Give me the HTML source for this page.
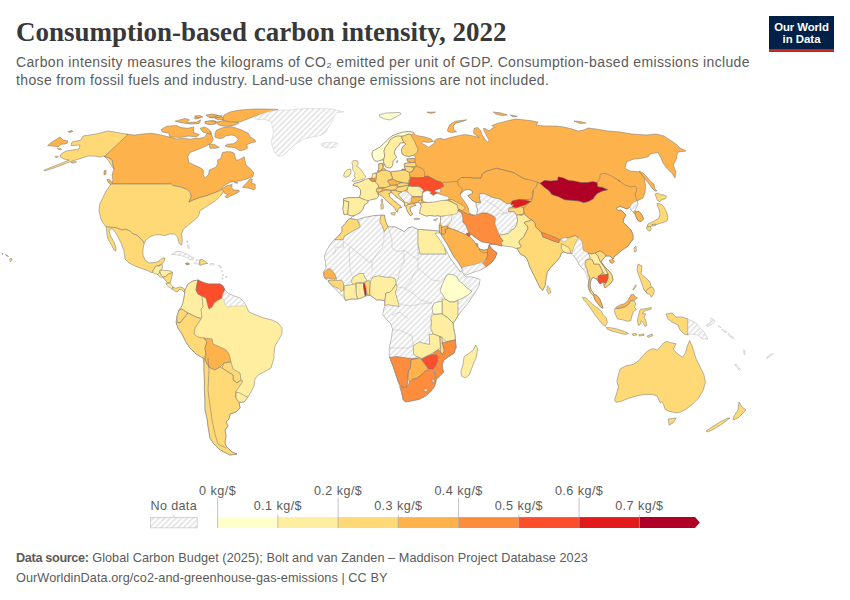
<!DOCTYPE html>
<html><head><meta charset="utf-8">
<style>
html,body{margin:0;padding:0;background:#fff;}
body{width:850px;height:600px;position:relative;overflow:hidden;font-family:"Liberation Sans",sans-serif;}
.t{position:absolute;white-space:nowrap;}
#title{left:16px;top:16.8px;font-family:"Liberation Serif",serif;font-weight:bold;font-size:27px;color:#383838;line-height:30px;}
#sub{left:16px;top:53.6px;font-size:14px;letter-spacing:0.36px;color:#5b5b5b;line-height:17.9px;}
#logo{position:absolute;left:769px;top:16px;width:65px;height:33px;background:#002147;border-bottom:3px solid #ce261e;}
#logo div{position:absolute;width:65px;text-align:center;color:#fff;font-weight:bold;font-size:11.4px;line-height:12px;}
.leg{position:absolute;font-size:12.5px;color:#5b5b5b;white-space:nowrap;}
#foot{left:16px;top:547.6px;font-size:12.7px;color:#5b5b5b;line-height:20px;}
svg{position:absolute;left:0;top:0;}
</style></head><body>
<div class="t" id="title">Consumption-based carbon intensity, 2022</div>
<div class="t" id="sub">Carbon intensity measures the kilograms of CO₂ emitted per unit of GDP. Consumption-based emissions include<br>those from fossil fuels and industry. Land-use change emissions are not included.</div>
<div id="logo"><div style="top:4.6px;letter-spacing:-0.1px">Our World</div><div style="top:16.8px">in Data</div></div>

<svg width="850" height="600" viewBox="0 0 850 600">
<defs>
<pattern id="hatch" patternUnits="userSpaceOnUse" width="4" height="4" patternTransform="rotate(-45 2 2)">
<rect x="-1" y="-1" width="6" height="6" fill="#fff"/><path d="M-1 2H5" stroke="#dddddd" stroke-width="1.4"/>
</pattern>
</defs>
<g id="map" stroke="#707070" stroke-width="0.5" stroke-linejoin="round">
<path d="M47.6 145.6 52 142 60 137 63 140 68 141 67 143.6 61 144.4 58 147 53 146Z" fill="#feb24c"/>
<path d="M68 131.5 72 130.5 73 131.5 69 132.5Z" fill="#feb24c"/>
<path d="M70.8 162.5 74 161.6 76.7 161.8 73 163.3Z" fill="#fed976"/>
<path d="M55 156.4 57.5 156 58.3 157 55.8 157.6Z" fill="#fed976"/>
<path d="M57.5 148.5 60 148.2 61.7 149.3 58.5 149.7Z" fill="#fed976"/>
<path d="M126.4 134 134.2 135.1 142.7 134 151.9 133.3 159.7 134.7 168.2 136.8 176.7 139 183.7 138.2 190 139.2 195 138.3 199.2 138.3 204.2 137.5 206.7 134.2 208.3 130.8 210.8 131.7 211.7 135 213.3 139.2 211.7 142.5 206.7 145.8 202.5 147.5 196.7 150 190 152.5 188 156 188 158 188.7 162.3 195 165.5 200 167.5 203.3 170 203.3 175 205 177.9 208.6 174.3 209.3 170 215.8 167.2 217.9 163.6 217.5 160 220.8 158.3 222.5 152.5 226.7 151.7 230.8 151.7 234.2 153.3 235.8 160 238.3 160 241.7 158.3 244.2 156.7 245.9 165 250.9 169.3 253.7 172.9 253 176.5 249.4 177.9 245.1 179.4 240.8 180.8 235.1 181.5 230.1 182.2 225.1 185.1 221.5 188 222.2 188.7 226.5 185.8 232.2 184.4 231.5 187.2 233.7 190.1 238.7 190.1 239.4 191.5 235.8 193.7 230.8 195.8 226.5 198 225.1 196.6 227.9 194.4 225.1 193.7 223.6 192.3 222.1 189.5 218.9 191.1 212.5 193.5 206.2 195.9 199.8 197.5 193.5 199.9 188.7 202.2 191.1 196.7 190.3 192.7 187.1 189.5 180.8 187.1 172.8 185.6 171.2 184 142.6 184 111 184 113 180 112 175 114 169 113 166 112 160 109 158 104.5 156.5Z" fill="#feb24c"/>
<path d="M242.3 187.2 246.6 182.9 250.2 178.6 252.3 179.4 251.6 182.9 255.2 184.4 255.2 188.7 253.7 190.1 250.9 188.7 248 188 245.1 187.6Z" fill="#feb24c"/>
<path d="M234.4 182.2 238 182.9 236 183.3Z" fill="#feb24c"/>
<path d="M107 179 110 180 114 185 112 186 108 182Z" fill="#feb24c"/>
<path d="M104 171 106 170 106 174 104 175Z" fill="#feb24c"/>
<path d="M161 129.7 166.7 126.2 176.7 125.5 181 127.6 188 128.3 193.7 127 193.7 132.6 199.3 134.7 196.5 136.8 188 136.1 179.5 137.5 169.6 136.8 168.9 133.3 162.5 131.9Z" fill="#feb24c"/>
<path d="M175.2 121.2 185.2 118.4 189.4 119.8 186.6 122.7 196.5 122 200.7 119.8 199.3 123.4 190.8 124 181 122.7Z" fill="#feb24c"/>
<path d="M194.4 117.7 201.4 116.3 199 118.5 195 119Z" fill="#feb24c"/>
<path d="M205 122 213.5 120.5 219.2 122.7 212 124Z" fill="#feb24c"/>
<path d="M200 128.3 205 127 209.2 129.7 210.7 134 206.4 133.3 202.9 131.9Z" fill="#feb24c"/>
<path d="M216.7 130 223.3 127.5 231.7 126.7 236.7 128.3 241.7 130 248.3 133.3 250 136.7 255 140 255.8 141.7 250 143.3 246.7 145 247.5 148.3 243.3 150 240 150.8 237.5 149.2 234.2 147.5 227.5 147 225 145.8 227.5 144.2 233.3 143.8 236.7 141.7 238.3 139.2 235 135.8 231.7 135 225.8 135.8 223.3 138 219 138.5 215 137 215 133Z" fill="#feb24c"/>
<path d="M209.2 144.2 214.2 144.2 219.2 147.5 215 148.3 210 148.3Z" fill="#feb24c"/>
<path d="M217.5 122 222 120.8 230 120.6 236 121.5 239 123 235 125 228 126.4 221 125.8 218 124.5Z" fill="#feb24c"/>
<path d="M205 121.5 210 120.8 216 121.5 215 124 209 124.7 205 123.5Z" fill="#feb24c"/>
<path d="M194.5 116 200 115.6 202.7 117 198 118Z" fill="#feb24c"/>
<path d="M207.7 115.5 214 114.8 222.5 116 218 118 210 117.8Z" fill="#feb24c"/>
<path d="M224 115 230 112 240 110 254 109 266 109 278 109.4 270 112 258 115 250 118 240 122 230 122 222 120Z" fill="#feb24c"/>
<path d="M206 115 212 114 218 115.5 214 117 208 117Z" fill="#feb24c"/>
<path d="M215 118 222 117 224 119 218 120Z" fill="#feb24c"/>
<path d="M254.5 117.4 261.2 114.1 270.1 111.3 277.9 110.1 289.1 110.1 298 109 311.5 108.5 322.6 108.7 331.6 109 339.4 110.7 343.9 111.8 336 112.9 333.8 116.3 332.7 120.8 330.4 124.1 328.2 127.5 326 131.9 321.5 135.3 315.9 136.4 309.2 137.5 302.5 139.8 296.9 143.1 292.5 146.5 288 150.9 283.5 155.4 279 156.5 275.7 154.3 273.5 149.8 271.2 143.1 272.3 137.5 273.5 131.9 272.3 126.3 271.2 121.9 265.6 119.6 258.9 119.6 255.6 119.1Z" fill="url(#hatch)" stroke="#c8c8c8"/>
<path d="M321.5 143.7 326 142.5 334.9 142 338.3 143.7 336 147 330.4 148.1 324.9 147.6 321.5 145.3Z" fill="url(#hatch)" stroke="#c8c8c8"/>
<path d="M110.9 184 142.6 184 171.2 184 172.8 185.6 180.8 187.1 187.1 189.5 190.3 192.7 191.1 196.7 188.7 202.2 193.5 199.9 199.8 197.5 206.2 195.9 212.5 193.5 218.9 191.1 222.1 189.5 223.7 191.1 220.5 195.9 215.7 200.6 209.4 204.6 204.6 207.8 199.8 211 199 214.9 196.7 218.1 191.9 222.1 187.1 226.1 183.2 229.2 181.6 234 182.4 240.4 181.6 245.1 179.2 243.5 177.6 237.2 174.4 234 169.7 234 164.9 235.6 160.1 234.8 155.4 234.8 149 237.2 145.8 240.4 144.2 243.5 141.1 238.8 136.3 234.8 133.1 234 129.9 230.8 125.2 229.2 122 230 115.6 227.6 106.1 226.9 102.9 222.9 100.6 218.1 99 210.2 99.8 203.8 102.9 197.5 106.1 191.1 109.3 186.4Z" fill="#fed976"/>
<path d="M128 134.4 120 133 108 131 96 134 83 136 81 140 72 142 71 145.6 80 145 79 149 66 151 61 154 60 157 64 159 69 160 62 163 52 167 44 170.2 44.5 171 53 168.3 62 165 69.2 162 75 160.2 82 158 88 156 94 156 100 157 104 156 109 158 112 160 113 166 114 169 111 165 108 160 104.5 156.5Z" fill="#fed976"/>
<path d="M106.1 226.9 115.6 227.6 122 230 125.2 229.2 129.9 230.8 133.1 234 136.3 234.8 141.1 238.8 144.2 243.5 143 249 143 255 145 260 149 263 156.2 262.3 159.9 260.5 162.3 258 165.1 258 164.2 261.1 162.3 263.5 159.9 264.8 159.9 266 156.2 266 153.1 270.3 152.5 272.5 150 272.2 149 271 143 269 135 266 129 263 125 259 124 251 121 243 117 235 113 229 110 229 109 231 111 237 114 242 116 248 116 251 114 250 111 244 108 239 107 235 106.6 230Z" fill="#fed976"/>
<path d="M159.9 264.8 162.3 264.5 162.3 269.1 159.9 270.3 159.9 272.2 158 274.6 154.3 273.4 152.5 272.5 153.1 270.3 156.2 266 159.9 266Z" fill="#ffeda0"/>
<path d="M159.9 270.3 165.4 270.3 171 271 172.8 272.5 168.5 274 165.4 276.5 162.9 277.1 161.1 275.3 159.9 272.2Z" fill="#ffeda0"/>
<path d="M158 274.6 159.9 272.2 161.1 275.3 162.9 277.1 159.9 277.1Z" fill="#ffeda0"/>
<path d="M162.9 277.7 165.4 276.5 168.5 274 172.8 272.5 171.6 277.7 170.3 282.7 167.3 282.7 164.8 279.6Z" fill="#fed976"/>
<path d="M166 283.3 170.3 283.3 172.8 287 172.2 289.4 169.7 287.6 167.3 285.7Z" fill="#ffeda0"/>
<path d="M172.8 287 175.9 288.2 179.6 287 182.7 287.6 185.1 290.1 183.9 291.9 182.1 290.1 179 289.4 177.7 291.9 175.3 291.3 172.8 289.4Z" fill="#fed976"/>
<path d="M171.2 254.4 175.7 251.5 180.7 251.5 185.6 253.6 189.7 255.7 193.8 257.7 193 259.8 188.9 259.4 187.2 257.7 181.5 255.7 175.7 254.8Z" fill="url(#hatch)" stroke="#bbbbbb"/>
<path d="M186.4 241 188 241.5 187.5 243Z" fill="url(#hatch)" stroke="#bbbbbb"/>
<path d="M187.5 245 189 245.5 189.5 248.5 188 248Z" fill="url(#hatch)" stroke="#bbbbbb"/>
<path d="M185.2 263.4 187.5 262.8 189.7 264 187 265.1Z" fill="#fd8d3c"/>
<path d="M196.3 259.8 199.6 259.8 199.6 263.1 200 264.7 197.1 263.9 193.8 263.5 196.3 262.2Z" fill="url(#hatch)" stroke="#bbbbbb"/>
<path d="M200 259.8 202.1 259.4 205.4 261.4 207.8 263.5 204.5 263.9 201.2 264.7 200 265.5 199.6 263.1Z" fill="#fed976"/>
<path d="M209.9 263.6 214 263.5 214 264.8 210 264.8Z" fill="url(#hatch)" stroke="#bbbbbb"/>
<path d="M218.9 265.4 220.1 265.4 220.1 266.6 218.9 266.6Z" fill="url(#hatch)" stroke="#bbbbbb"/>
<path d="M220.4 266.9 221.6 266.9 221.6 268.1 220.4 268.1Z" fill="url(#hatch)" stroke="#bbbbbb"/>
<path d="M221.4 270.4 222.6 270.4 222.6 271.6 221.4 271.6Z" fill="url(#hatch)" stroke="#bbbbbb"/>
<path d="M222.4 274.4 223.6 274.4 223.6 275.6 222.4 275.6Z" fill="url(#hatch)" stroke="#bbbbbb"/>
<path d="M221.9 277.9 223.1 277.9 223.1 279.1 221.9 279.1Z" fill="url(#hatch)" stroke="#bbbbbb"/>
<path d="M225.9 276.4 227.1 276.4 227.1 277.6 225.9 277.6Z" fill="url(#hatch)" stroke="#bbbbbb"/>
<path d="M185 290 188 284 193 281 198 280 202 282 208 284 214 284 220 284 223 286 225 290 229 294 234 296 240 298 244 302 246 306 249 312 256 315 264 318 272 320 278 323 282 328 282 334 278 341 275 346 274 354 274 358 271 368 264 372 258 375 255 379 254 386 251 392 248 397 244 402 239 402.4 240 408 236 412 230 414 229 419 226 422 228 426 225 430 226 436 225 442 226 446 228 448 232 452 237 454 230 455 224 452 219 449 214 444 210 438 209 432 208 426 207 418 205 410 205 400 204.4 390 204.4 380 204 370 204 364 203 358 196 354 190 348 186 342 182 334 178 328 176 322 177 316 179 310 182 306 184 298Z" fill="#ffeda0"/>
<path d="M185 290 188 284 193 281 198 280 197 284 196 290 198 294 202 296 203 307 201 309 202 318 199 318 196 317 190 314 186 312 182 309 179 310 182 306 184 298Z" fill="#ffeda0"/>
<path d="M198 280 202 282 208 284 214 284 220 284 223 286 225 290 223 294 222 298 218 300 214 303 212 307 209 309 208 306 207 302 206 298 202 296 198 294 196 290 197 284Z" fill="#fc4e2a"/>
<path d="M225 290 229 294 234 296 240 298 244 302 246 306 240 306 234 306 228 307 225 305 224 300 222 298 223 294Z" fill="url(#hatch)" stroke="#bbbbbb"/>
<path d="M179 310 182 309 186 312 188 313 184 318 180 323 177 322 177 316Z" fill="#fed976"/>
<path d="M180 323 184 318 188 313 190 314 196 317 199 318 201 319 195 328 194 334 198 337 204 338 207 342 205 348 206 354 204 358 203 358 196 354 190 348 186 342 182 334 178 328 176 322Z" fill="#fed976"/>
<path d="M204 338 212 339 213 344 220 347 226 350 229 354 231 362 224 363 220 367 215 370 210 368 207 364 205 360 206 354 205 348 207 342Z" fill="#feb24c"/>
<path d="M224 363 231 362 233 369 240 373 241 380 237 383 233 380 233 375 228 372 222 368Z" fill="#fed976"/>
<path d="M204 358 205 360 207 364 210 368 215 370 220 367 222 368 228 372 233 375 233 380 237 383 241 380 243 381 239 387 236 391 235.6 397 239 402.4 240 408 236 412 230 414 229 419 226 422 228 426 225 430 226 436 225 442 226 446 228 448 232 452 237 454 230 455 224 452 219 449 214 444 210 438 209 432 208 426 207 418 205 410 205 400 204.4 390 204.4 380 204 370 204 364Z" fill="#fed976"/>
<path d="M208 358 209 370 208 390 210 406 212 420 215 434 218 444 224 447 226 448" fill="none"/>
<path d="M236 392 240 393 245 396 248 397 244 402 239 402.4 236 398Z" fill="#ffeda0"/>
<path d="M355.3 215.3 351.8 215.9 349.4 215.3 347.1 214.1 344.1 214.7 342.9 209.4 343.5 204.7 343.5 200.6 343.5 198.8 349.4 197.6 359.4 197.6 360.6 194.1 360.6 190 357.6 186.5 352.9 185.3 354.1 183.5 358.8 182.4 363.5 180.6 368.8 179.1 372.4 177.9 372.5 174 375.5 172.9 376.3 173.3 377.6 171.5 378.8 169.1 378.8 163.8 382.4 163.2 383.5 164 384.1 163.8 383.5 160.3 381.3 160 377.3 161.3 374.7 160.7 372.7 157.3 372 154 372.7 151.3 374.7 150 380 147.3 384 143.3 388 139.3 392 136 396.7 134 402.7 132.3 408 131.7 413.3 132.3 415.6 135.4 424.1 136.8 431.2 138.9 433.3 141.7 436.8 138.9 441.1 138.2 443.9 139.6 448.1 138.2 453.8 136.8 459.4 135.4 465.1 134.6 470.7 135.4 476.4 136.8 479.2 137.5 473.5 133.2 474.2 128.3 477.8 127.6 480.6 130.4 482 134.6 484.8 138.9 487.6 142.4 489.1 140.3 486.9 136.1 484.1 131.1 483.4 128.3 486.2 129 489.1 131.1 491.9 128.3 494.7 127.6 491.9 125.5 497.5 123.4 503.2 121.9 508.8 120.5 515.9 119.1 522.9 119.8 530 120.5 538 122 536 125 544 126 556 126 564 127 572 129 578 131 584 130 588 128 596 129 608 131 620 132 632 134 646 135 656 134 664 136 670 140 676 144 680 148 686 151 678 152 676.7 156 676.7 158.3 673.3 165 675.8 171.7 675 178 671.7 173 666.7 168 663 163 661 158 658 152.5 656.7 152.5 650 154.2 648.3 156.7 641.7 158.3 633.3 159.2 626.7 161.7 625 168.3 630 171 640 172 644 176 645.5 186 645 193 643 198 639 200 637 201 638 204 636.5 207 635 210 635.5 212 639 211.5 642 215 643.5 219 641 221.5 638.5 221 636.5 218 635.5 215 633 212 631 210 630 207 627 209 622 207 620 206 616 208.5 618 210.5 621 210 624 213 626 215 624 218 623 222 627 226 631 230 633 235 633 240 632 240 628 246 622 250 614 257 613 259 610 256 606 256 603 259 601 262 605 267 609 271 612 275 613 280 610 284 605 288 604 286 603 282 600 284 598 281 596 279 593 277 591 280 590 285 591 290 592.2 291.6 594.1 294.4 596.9 295.4 599.8 299.1 601.6 303.8 603.1 308.1 601.2 307.6 597.9 303.8 595.1 300.1 594.1 297.2 593.2 295.4 590.4 292.5 588.9 289.7 588 286 589 278 588 274 584 270 580 266 578 262 574 256 572 252 571.8 254.2 570.7 253 567.2 253 563.7 251.8 561.3 253 560.2 256.5 556.7 261.2 552 265.8 547.3 271.7 546.2 277.5 545 285.7 542.7 290.3 540.3 288 536.8 281 533.3 274 529.8 267 527.5 260 525.2 256.5 520.5 254.2 517 248.3 514 244 510 243 504 244 502 246 498 245 492 244 489 244.5 493 250 497 253 495 258 492 262 486 267 480 270 474 272 466 275 462 272 464 275 466 277 472 277 480 279.5 479 285 476 291 472 297 468 303 463 309 459 314 456 319 453.5 323 453.5 327.5 454.8 334 455.4 339.8 456.1 348.2 455.1 348.9 454.4 352.8 448.6 356.6 443.4 360.5 442.1 365.7 443.4 372.2 440.8 374.8 436.3 379.3 435.6 381.2 434.4 386.4 430.5 391.6 425.3 396.1 418.8 399.4 412.4 400.6 405.9 401.9 403.3 400 402.6 396.8 401.4 391.6 400.1 387.7 398.1 381.2 395.5 373.5 392.9 365.7 390.4 359.2 389.4 356 389.4 348.2 390.7 341.8 392 335.3 392.6 328.8 390.7 323.6 386.8 319.8 382.9 314.6 383.6 310 384.9 306.4 384.9 300.8 381.2 299.8 376.5 299.8 372.7 297 369.9 295.1 365.2 296.1 361.4 297.9 357.6 298.9 351.1 298.9 345.4 300.3 343.5 297 338.8 292.3 334.1 287.6 331.3 284.8 329.4 282.9 328.5 280.5 325.2 278.6 324.2 276.3 323.2 272.6 326.2 268 325.6 262.1 324.4 256.2 326.8 250.3 330.3 244.4 334.4 239.7 338.5 236.2 342.1 231.5 342.1 226.8 345.6 223.2 348 219.7 350.3 218.5 354 217Z" fill="#feb24c"/>
<path d="M348 219.7 350.3 218.5 357.4 219.7 364.4 217.4 373.8 215.6 380.9 215 384.4 215 385.6 220.9 388 226.8 395 226.8 399.7 229.1 404.4 231.5 408 227.9 412.6 226.8 418 229.4 426.3 229.8 433.8 230.5 439 230.9 440.5 235 446 241 450 250 455 260 460 268 464 275 466 277 472 277 480 279.5 479 285 476 291 472 297 468 303 463 309 459 314 456 319 453.5 323 453.5 327.5 454.8 334 455.4 339.8 456.1 348.2 455.1 348.9 454.4 352.8 448.6 356.6 443.4 360.5 442.1 365.7 443.4 372.2 440.8 374.8 436.3 379.3 435.6 381.2 434.4 386.4 430.5 391.6 425.3 396.1 418.8 399.4 412.4 400.6 405.9 401.9 403.3 400 402.6 396.8 401.4 391.6 400.1 387.7 398.1 381.2 395.5 373.5 392.9 365.7 390.4 359.2 389.4 356 389.4 348.2 390.7 341.8 392 335.3 392.6 328.8 390.7 323.6 386.8 319.8 382.9 314.6 383.6 310 384.9 306.4 384.9 300.8 381.2 299.8 376.5 299.8 372.7 297 369.9 295.1 365.2 296.1 361.4 297.9 357.6 298.9 351.1 298.9 345.4 300.3 343.5 297 338.8 292.3 334.1 287.6 331.3 284.8 329.4 282.9 328.5 280.5 325.2 278.6 324.2 276.3 323.2 272.6 326.2 268 325.6 262.1 324.4 256.2 326.8 250.3 330.3 244.4 334.4 239.7 338.5 236.2 342.1 231.5 342.1 226.8 345.6 223.2Z" fill="url(#hatch)" stroke="#bbbbbb"/>
<path d="M343.2 239.7 343.5 247 336 247 335 253 333 254" fill="none" stroke="#bbbbbb"/>
<path d="M344.5 242 358 253 369 262 372 262" fill="none" stroke="#bbbbbb"/>
<path d="M349 247 350 270 352 275" fill="none" stroke="#bbbbbb"/>
<path d="M358.8 220.6 360 224.7 357 228 350 232 344 236" fill="none" stroke="#bbbbbb"/>
<path d="M384 229 384 240 382 248 378 252 372 262 372 270" fill="none" stroke="#bbbbbb"/>
<path d="M388 226.8 392 240 392 248 398 252 404 250 418 260" fill="none" stroke="#bbbbbb"/>
<path d="M418 229.4 418 254 446 254" fill="none" stroke="#bbbbbb"/>
<path d="M404 250 404 262 400 270 398 280 396 283" fill="none" stroke="#bbbbbb"/>
<path d="M418 254 418 268 414 274 410 282 404 288 398 287" fill="none" stroke="#bbbbbb"/>
<path d="M418 268 432 280 440 281" fill="none" stroke="#bbbbbb"/>
<path d="M404 288 414 294 420 300 432 303" fill="none" stroke="#bbbbbb"/>
<path d="M398 303 404 305 410 306 420 304 432 303" fill="none" stroke="#bbbbbb"/>
<path d="M392 315 400 312 404 316 408 318" fill="none" stroke="#bbbbbb"/>
<path d="M392 330 400 330 408 334 412 336 413.4 345.6" fill="none" stroke="#bbbbbb"/>
<path d="M389.4 348 400 348 408 348 413.4 345.6" fill="none" stroke="#bbbbbb"/>
<path d="M432 314 431 322 431.5 329 433 334" fill="none" stroke="#bbbbbb"/>
<path d="M454 284 458 278" fill="none" stroke="#bbbbbb"/>
<path d="M350.3 218.5 357.4 219.7 360.3 226.8 356.2 229.1 350.3 232.6 344.4 236.2 343.2 239.7 334.4 239.7 338.5 236.2 342.1 231.5 342.1 226.8 345.6 223.2 348 219.7Z" fill="#fed976"/>
<path d="M380.9 215 384.4 215 385.6 220.9 388 226.8 384.4 231.5 382.1 225.6 379.7 222.1Z" fill="#fed976"/>
<path d="M418 229.4 426.3 229.8 433.8 230.5 439 230.9 440.5 235 441 240 444 245 446 254 434 254 420 254 418 245Z" fill="#ffeda0"/>
<path d="M323.8 272.5 327.5 269.2 330.4 268.8 333.2 272.1 335.5 275.4 336.5 279.1 332.2 279.1 328.5 278.2 325.2 278.6 324.2 276.3Z" fill="#feb24c"/>
<path d="M328.5 280.5 332.2 280.1 336.9 280.5 341.6 280.1 343.5 283.8 343.5 290.4 341.6 291.4 338.8 288.5 334.1 286.6 331.3 284.8 329.4 282.9Z" fill="#fed976"/>
<path d="M351.1 281.9 352.9 277.2 359.5 273.5 363.3 273.5 365.2 278.2 367.1 280.1 364.2 282.4 357.6 282.4 353.9 284.8Z" fill="#ffeda0"/>
<path d="M344.5 285.7 350.1 284.8 355.8 283.8 356.2 291.4 357.6 298.9 351.1 298.9 345.4 300.3 344 295.1 344 290.4Z" fill="#ffeda0"/>
<path d="M356.2 283.4 363.3 283.4 363.8 288.5 365.2 296.1 361.4 297.9 357.6 298.9 356.2 293.2Z" fill="#ffeda0"/>
<path d="M363.3 283.4 364.7 282.9 366.1 288.5 366.6 295.1 365.2 296.1 363.8 288.5Z" fill="#e31a1c"/>
<path d="M364.7 282.9 368 280.5 370.4 281.5 369.9 288.5 369.9 295.1 367.1 295.1 366.1 288.5Z" fill="#fed976"/>
<path d="M370.4 281.5 372.7 277.2 378.4 275.8 385.9 277.2 391.5 277.2 395.3 279.1 396.2 283.8 392.5 289.5 389.6 292.3 385.9 293.2 384.9 300.8 381.2 299.8 376.5 299.8 372.7 297 369.9 295.1 369.9 288.5Z" fill="#ffeda0"/>
<path d="M384.9 300.8 385.9 293.2 389.6 292.3 392.5 289.5 396.2 283.8 397.2 287.6 395.3 292.3 397.2 298.9 399.1 306.4 391.5 305.5 387.8 304.5 384.9 306Z" fill="#ffeda0"/>
<path d="M448 274 454 275 457 277 459 281 463 284 467 288 472 291.5 468 295 463 298 458 300 454 302 450 302 445 299 443 295 440 291 442 285 445 278Z" fill="#ffffcc"/>
<path d="M442 299 445 299 450 302 454 302 458 300.5 458 307 458 315 456 319 453 323 448 318 442 314 442 308Z" fill="#ffeda0"/>
<path d="M434 303 442 301 442 314 433 314 432 308Z" fill="#ffffcc"/>
<path d="M430.8 317.2 433 314.5 442 314 448 318 453 323 453.5 328.8 454.8 334 455.4 339.8 446.4 341.8 441.8 337.2 439.9 336.6 433.4 334 430.8 328.8 431.5 322.4Z" fill="#ffeda0"/>
<path d="M413.4 345.6 419.2 341.8 423.1 343.1 429.5 344.4 429.5 337.9 428.9 334.6 433.4 334 439.9 336.6 440.5 347 438.6 349.5 433.4 352.8 426.9 356 421.8 358.6 419.2 357.3 415.3 356 413.4 353.4Z" fill="#ffeda0"/>
<path d="M439.9 336.6 441.8 337.2 442.5 343.1 444.4 350.8 442.5 354.7 440.5 352.1 440.5 347Z" fill="#fed976"/>
<path d="M441.8 343.1 446.4 341.8 455.4 339.8 456.1 348.2 455.1 348.9 454.4 352.8 448.6 356.6 443.4 360.5 442.1 365.7 443.4 372.2 440.8 374.8 436.3 379.3 435 373.5 434.4 370.2 433.1 368.9 435.6 365.7 437.6 360.5 436.9 355.4 433.4 352.8 438.6 349.5 440.5 352.1 442.5 354.7 444.4 350.8 442.5 343.1Z" fill="#fd8d3c"/>
<path d="M389.7 357.3 396.8 356.6 411.1 358.6 418.8 357.9 411.1 359.9 410.4 368.3 408.5 370.9 407.8 378.6 407.2 386.4 404.6 387.7 400.7 386.4 398.1 381.2 395.5 373.5 392.9 365.7 390.4 359.2Z" fill="#fd8d3c"/>
<path d="M411.1 359.9 418.8 357.9 421.4 359.2 425.3 364.4 428.5 368.9 424 372.2 420.1 376.1 416.2 378.6 412.4 379.3 409.8 381.9 407.8 378.6 408.5 370.9 410.4 368.3Z" fill="#feb24c"/>
<path d="M421.4 359.2 426.6 356.6 433.1 354.1 436.9 355.4 437.6 360.5 435.6 365.7 433.1 368.9 428.5 368.9 425.3 364.4Z" fill="#fc4e2a"/>
<path d="M409.8 381.9 412.4 379.3 416.2 378.6 420.1 376.1 424 372.2 428.5 369.6 433.1 369.6 434.4 373.5 435.6 379.3 436.3 381.2 434.4 386.4 430.5 391.6 425.3 396.1 418.8 399.4 412.4 400.6 405.9 401.9 403.3 400 402.6 396.8 401.4 391.6 400.1 387.7 400.7 386.4 404.6 387.7 407.2 386.4Z" fill="#fd8d3c"/>
<path d="M423.4 390 426 388.8 427.9 390 425.5 391.6Z" fill="#fff"/>
<path d="M432 379.5 433.8 379.3 434.4 381.5 432.5 382.5Z" fill="#fff"/>
<path d="M475.8 345 477.7 348.9 476.4 356.6 473.2 364.4 469.3 374.8 465.4 378 461.5 376.1 460.9 370.9 462.8 365.7 464.1 356.6 468 354.1 473.2 350.2Z" fill="#ffeda0"/>
<path d="M372.7 151.3 374.7 150 380 147.3 384 143.3 388 139.3 392 136 396.7 134 402.7 132.3 408 131.7 413.3 132.3 414 133.3 411.3 134.7 409.3 134 406.7 134.7 404 136 401.3 136.3 398 136 396 136.3 392.7 138 390 140 388 144 385.3 147.3 384 151.3 384.7 156 384 158.7 381.3 160 377.3 161.3 374.7 160.7 372.7 157.3 372 154Z" fill="#ffffcc"/>
<path d="M384 151.3 385.3 147.3 388 144 390 140 392.7 138 396 136.3 398 136 401.3 136.3 402.7 140 404 142.7 400 143.3 398.7 146 396 148 394.7 151.3 394.7 154 396.7 157.3 394.7 159.3 393.3 161.3 392.7 165.3 390.7 168 388.2 168 385.3 166.8 384.1 163.8 383.5 160.3 384 158.7 384.7 156Z" fill="#ffeda0"/>
<path d="M401.3 136.3 404 136 406.7 134.7 409.3 134.3 411.3 134.7 412 137.3 414 140 416 144.7 418 149.3 417.3 152.7 413.3 155.3 409.3 156.7 405.3 156 402 154 401.3 150 402.7 146.7 406 144 404 142.7 402.7 140Z" fill="#fed976"/>
<path d="M406.7 158.7 414.7 158.3 415.3 162 410.7 162.7 407.3 161.3Z" fill="#feb24c"/>
<path d="M404.1 163.8 406 163 410.6 162.6 415.3 162.6 416.5 166.2 410.6 166.8 404.1 166.2Z" fill="#fed976"/>
<path d="M404.1 166.2 410.6 166.8 414.1 168 412.4 171.5 409.3 172.5 405.3 170.3 405.3 169.1Z" fill="#fed976"/>
<path d="M401.8 169.1 405.3 169.1 405.3 170.3 401.8 170.3Z" fill="#feb24c"/>
<path d="M409.3 172.5 412.4 171.5 414.1 168 416.5 166.2 422.4 168.5 424.7 172.1 424.7 176.5 423.5 177.6 417.6 177.9 410.6 177.6 410 178Z" fill="#feb24c"/>
<path d="M390.5 171.8 396.5 171 401.8 170.3 405.3 170.3 409.3 172.5 410 178.5 408.5 180.8 409.3 183 404.8 183 400.3 181.9 396.5 181.1 392.8 179.3Z" fill="#fed976"/>
<path d="M410.6 177.6 417.6 177.9 423.5 177.6 424.7 176.5 427.6 175.9 430 177.1 433 178.8 436.5 180.6 440.6 181.8 442.9 183.5 443.5 186.5 441.2 187.6 440 188.8 437.6 189.4 435.3 190 434.7 191.8 436.5 192.4 437.6 193.5 435.3 194.1 433.5 195.6 431.2 194.1 430 192.9 431.8 191.8 429.4 191.2 427.1 190.6 425.3 191.2 424.1 191.8 422.4 192.9 421.8 191.2 423.5 190.6 422.4 189.4 420 187.6 417.6 186.5 414.7 186.5 411.8 186.5 408.8 185.9 408.5 184.1 409.4 182.4 410 180Z" fill="#fc4e2a"/>
<path d="M376.3 173.3 382.3 170.3 386.8 170.3 390.5 171.8 391.3 175.5 392.8 178.5 388.3 180 389.8 183.8 389.8 186 386.8 187.5 382.3 187.5 378.5 187.1 377.8 184.5 375.5 182.3 376.3 177.8Z" fill="#fed976"/>
<path d="M378.8 169.1 378.8 163.8 382.4 163.2 383 167.4 381.2 169.7 382.3 170.3 377.5 171Z" fill="#fed976"/>
<path d="M387.4 180.8 392.8 179.3 396.5 181.1 401 182.6 398.5 184.3 394.3 185 391.3 185.3 389 183.6Z" fill="#feb24c"/>
<path d="M397.3 184.5 400.3 183 404.8 183 408.5 183.8 408.5 185 405.5 185.8 401 186.4 398 186.8Z" fill="#fed976"/>
<path d="M382.3 188.3 387.5 186.8 391.3 185.6 396.5 185.3 397.3 187.5 395 189.8 390.5 190.1 386 189.4Z" fill="#fed976"/>
<path d="M376.3 189 381.5 188.3 382.3 190.5 379.3 192 376.3 191.3Z" fill="#fed976"/>
<path d="M397.3 187.5 401 186.8 405.5 185.8 408.5 185.5 408.8 186.2 407.8 187.5 405.5 190.5 401 192 397.3 191.3 395.8 189.8Z" fill="#fed976"/>
<path d="M407.8 187.5 408.8 186 411.8 186.5 414.7 186.5 417.6 186.5 420 187.6 422.4 189.4 423.5 190.6 422.4 192.9 422.8 195.8 420.5 196.5 416 196.5 411.5 196.1 409.3 193.5 407 191.3Z" fill="#ffeda0"/>
<path d="M417.6 186.5 420 187.6 422.4 189.4 423.5 190.6 421.8 191.2 421 192 420 189.5 418 187.5Z" fill="url(#hatch)" stroke="#bbbbbb"/>
<path d="M411.5 197.3 416 196.9 421.3 196.9 422.4 197.6 421.5 201 417.5 202.5 413 203.3 410.8 201Z" fill="#feb24c"/>
<path d="M397.3 193.5 401.8 192 405.5 191.3 409.3 193.5 411.5 196.5 410.8 201 408.5 203.3 406.3 204 404 201 401 198 398 195.8Z" fill="url(#hatch)" stroke="#bbbbbb"/>
<path d="M390.5 190.5 395 190.5 397.3 191.3 401.8 192 398 194.3 401 198 404 201 404 202.5 398.8 198.8 395 195.8 392.8 193.5Z" fill="#fed976"/>
<path d="M404 201.8 408.5 203.3 410 204.8 407 205.5 404.8 206.3 404 204Z" fill="#fed976"/>
<path d="M407 204.8 411.5 204 414.5 203.6 416 205.5 413 206.3 410 207.8 410.8 211.5 413 213 412.9 214.1 410.6 215.9 408.2 212.9 406.5 209.4 405.9 206Z" fill="#fed976"/>
<path d="M414.1 218.5 417 218.2 420 218.8 417 219.8 414.5 219.6Z" fill="#fed976"/>
<path d="M378.5 192.8 382.3 191.3 386 190.1 390.5 190.5 391.3 192.8 389 193.5 389.8 196.5 393.5 200.3 397.3 203.3 401 206.3 401.8 207.8 399.5 207.8 398 210 397.3 212.3 395.8 210.8 395 208.5 392 205.5 388.3 202.5 385.3 199.5 382.3 196.5 380 195 378.1 193.9Z" fill="#fed976"/>
<path d="M390.6 212.9 395.3 212.4 394.7 215.3 391.8 214.7Z" fill="#fed976"/>
<path d="M380.8 204 383 203.6 383.4 208.5 381.1 209.3Z" fill="#fed976"/>
<path d="M381.1 199.5 382.6 199.5 382.6 202.5 381.5 202.5Z" fill="#fed976"/>
<path d="M365 179.3 368.8 178.5 370.3 180 372.5 181.5 375.1 181.1 375.5 182.3 377.8 184.5 378.5 187.1 376.3 189 376.3 191.3 378.1 193.9 378.5 196.5 376.3 198.8 372.5 199.5 368.8 201 365.8 201 363.5 199.4 359.4 197.6 360.6 194.1 360.6 190 357.6 186.5 352.9 185.3 354.1 183.5 358.8 182.4 363.5 180.6Z" fill="#ffeda0"/>
<path d="M368.8 178.5 371.8 177.8 374 178.5 375.1 181.1 372.5 181.5 370.3 180Z" fill="#fd8d3c"/>
<path d="M371.8 177.8 372.5 174 375.5 172.9 376.3 174.8 375.9 177.8 374 178.5Z" fill="#ffeda0"/>
<path d="M343.5 198.8 349.4 197.6 359.4 197.6 363.5 199.4 368.2 200.6 368.2 202.4 364.7 204.7 362.9 209.4 360 212.9 355.3 215.3 351.8 215.9 349.4 215.3 347.6 214.1 348.2 207.1 348.8 201.8 343.5 200.6Z" fill="#ffeda0"/>
<path d="M343.5 200.6 348.8 201.8 348.2 207.1 347.6 214.1 344.1 214.7 342.9 209.4 343.5 204.7Z" fill="#ffeda0"/>
<path d="M353.5 160.3 357.6 160.9 358.2 163.8 356.5 166.2 359.4 167.9 361.8 170.9 364.1 174.4 365.9 176.8 363.5 179.1 358.8 180.3 354.1 181.5 351.8 180.9 355.3 177.9 354.1 175.6 355.3 173.2 353.5 170.9 352.4 168.5 352.9 165.6 351.8 162.6Z" fill="#ffeda0"/>
<path d="M344.7 172.1 347.1 169.7 350.6 169.1 351.2 172.1 349.4 175.6 345.9 177.4 343.5 176.2Z" fill="#ffeda0"/>
<path d="M379 115 386 113 400 112.4 401 114 396 117 390 120 385 119 380 117Z" fill="#ffffcc"/>
<path d="M447.4 130.4 449.5 124.8 455.2 121.2 466.5 119.8 463.6 121.2 455.2 123.4 453.1 126.2 453.8 129.7 456.6 131.8 452.4 132.5 448.1 131.8Z" fill="#feb24c"/>
<path d="M426.9 112.1 435.4 112.1 431.2 113.5Z" fill="#feb24c"/>
<path d="M493.3 112.1 500.4 112.8 507.4 114.9 501.8 115.6 496.1 114.2Z" fill="#feb24c"/>
<path d="M510.2 114.9 517.3 116.3 513.1 117Z" fill="#feb24c"/>
<path d="M574 121 580 121.5 586 123 580 123.5Z" fill="#feb24c"/>
<path d="M420 203.5 424.7 202.4 430 202.4 435 201 440.6 199.5 447.6 200.5 452 202 457 204.7 458.5 209.5 458 211 457 214 452.5 214.8 447 215.5 440.5 216.3 437.5 215.9 434.5 216.3 430 215.5 426.3 216.3 422.5 214.8 419.5 213.3 420 209.4 421.2 205.9Z" fill="#ffeda0"/>
<path d="M418 201 421 200 422 202 419.5 203Z" fill="#ffeda0"/>
<path d="M448 199.5 452 199.5 457 202.3 462.5 205.2 465.3 208 462.5 210.8 458.5 209.5 457 204.7 452 202Z" fill="#fed976"/>
<path d="M440.5 217 447 215.5 452.5 215 451 221.5 446.5 226 443.5 226.8 441.3 225.3 440.5 221.5Z" fill="url(#hatch)" stroke="#bbbbbb"/>
<path d="M452.5 215 457 213.5 458.5 211 461.5 212.5 463 217.8 463 222.3 466 225.3 469 229 469 233 467.5 234.3 463 233.9 457 230.5 451 228.3 448 226.8 451 221.5Z" fill="url(#hatch)" stroke="#bbbbbb"/>
<path d="M441.3 227.5 446.5 226 448 226.8 447.3 229 445 229.8 445.8 232.8 443.5 234.3 441.3 234.3Z" fill="#feb24c"/>
<path d="M439 226 440.9 225.3 441.3 234.3 440.5 235 439.4 230.5Z" fill="#fed976"/>
<path d="M441.3 234.3 443.5 234.3 445.8 232.8 445 229.8 447.3 229 448 228 455 230 462 233 467 235 470 237 473 240 476 244 478 247 480 249 484 250 488 249 488 252 487 252 488 255 486 260 480 263 473 265 467 266 462 268 461 267 458 262 454 257 450 250 447 244 443 238 440.5 235Z" fill="#feb24c"/>
<path d="M479 249 484 250 488 249 489 246 488 252 484 253 480 251Z" fill="#feb24c"/>
<path d="M489 244.5 489 246 493 250 497 253 495 258 492 262 486 267 482 263 486 260 488 255 487 252 488 249Z" fill="#fd8d3c"/>
<path d="M462 268 467 266 473 265 480 263 486 260 482 263 486 267 480 270 474 272 466 275 462 272Z" fill="url(#hatch)" stroke="#bbbbbb"/>
<path d="M458.2 209.4 461.1 210 462.9 211.8 467.6 214.1 472.4 215.3 477.1 214.1 481.8 213.5 486.5 213.5 491.2 215.3 495.9 217.6 495 223.8 498 231.3 499.5 235 500.3 237.3 503.3 241 504 243 502 246 498 245 492 244 488 243 482 242 477 239 472 235 469 233 468 231 466 225.3 463 222.3 463 217.8 461.5 212.5 458.5 211Z" fill="#fd8d3c"/>
<path d="M442.7 182.5 450 182 457.5 181.1 461.1 177.5 468.2 177.5 473.8 178.2 480.9 178.2 482.3 174 486.6 171.2 496.5 168.3 502.2 169.7 507.8 171.2 513.5 172.6 519.2 176.1 524.8 179 531.9 181.8 537.6 182.5" fill="none"/>
<path d="M474.8 201.9 480.4 203 479 194.2 483.2 193.1 487.5 194.9 491.7 197 495.9 198.1 500.2 199.1 504.4 201.9 507.2 204 510.7 203 512.1 206.6 509 208 508.5 211.8 514.5 211.8 516.8 215.5 517.5 220 516.8 224.5 514.5 228.3 510.8 230.5 508.5 233.5 503.3 234.6 499.5 235 498 231.3 495 223.8 495.9 218 493.8 216.1 490.3 213.9 486.8 212.5 483.2 212.2 479.7 213.2 476.2 214.6 475.5 215.3 476.9 213.2 477.6 209.7 476.2 206.2 476.2 203.7Z" fill="url(#hatch)" stroke="#bbbbbb"/>
<path d="M484.6 199.8 490 203 497.3 207.6 504.4 213.2 507 213.5" fill="none" stroke="#bbbbbb"/>
<path d="M495 216.3 499.5 213.3 504 214 508.5 211.8" fill="none" stroke="#bbbbbb"/>
<path d="M457.5 181.1 461.1 177.5 468.2 177.5 473.8 178.2 480.9 178.2 482.3 174 486.6 171.2 496.5 168.3 502.2 169.7 507.8 171.2 513.5 172.6 519.2 176.1 524.8 179 531.8 180.3 535.3 181.5 538.8 182.6 536.5 187.4 535.3 189.7 532.9 190.9 531.8 193.2 532.9 195.6 531.8 199.1 526.2 199.5 519.2 199.5 513.5 200.9 510.7 203 507.2 204 504.4 201.9 500.2 199.1 495.9 198.1 491.7 197 487.5 194.9 483.2 193.1 479 194.2 480.4 203 474.8 201.9 471.9 200.2 469.1 197.3 467.7 195.6 469.1 194.9 472.3 193.5 471.9 190.6 467.7 189.6 464.2 190.6 460.3 194.2 462.5 188.9 458.2 185.3Z" fill="#feb24c"/>
<path d="M512.1 200.9 519.2 199.5 526.2 200.2 531.2 201.6 527.6 203.7 520.6 206.6 516.3 208 512.1 206.6 514.2 204.4 510.7 204.4Z" fill="#e31a1c"/>
<path d="M509 208 516.3 208 520.6 206.6 523.5 208 524 211 523.5 214 518.3 214.8 516.8 215.5 514.5 211.8 511 211.5 508.5 211.8Z" fill="#fed976"/>
<path d="M537.6 182.5 540 183.2 544.7 187.4 549.4 190.9 551.8 194.4 558.8 196.8 564.7 199.7 571.8 200.3 578.8 200.9 583.5 202.6 588.2 201.5 592.9 199.1 595.3 195.6 597.6 193.2 602.4 190.9 607.6 189.7 602.4 187.4 597.6 186.8 597.1 182.6 600 177.9 600 174.4 604.7 173.2 610.6 175.6 616.5 179.1 620 181.5 618 180 625 185 631 187 635 186 637 189 635 195 637 200 637 201 635 201.5 631.5 204 630 207 627 209 622 207 620 206 616 208.5 618 210.5 621 210 624 213 626 215 624 218 623 222 627 226 631 230 633 235 633 240 632 240 628 246 622 250 614 257 613 259 610 256 606 256 604 253 600 251 595 253 592 254 588 253 583 250 582 242 578.8 237.8 575.3 235.5 568.3 237.8 566 237.8 561.3 238.5 559 240.2 556.7 239 550.8 236.7 545 234.3 541.5 233.2 541.5 232 538.5 229.8 535.5 226.8 534.8 223 531.8 220 530.3 219.3 526.5 216.3 524.3 214 524 211 523.5 208 527.6 203.7 531.2 201.6 531.9 199.5 533.3 193.8 533.3 189.6 536.1 186.7Z" fill="#feb24c"/>
<path d="M540 183.2 544.7 180.3 550.6 180.9 557.6 180.3 558.2 176.8 563.5 177.9 568.2 180.3 574.1 180.9 581.2 182.6 587.1 182.6 592.9 181.5 597.1 182.6 597.6 186.8 602.4 187.4 607.6 189.7 602.4 190.9 597.6 193.2 595.3 195.6 592.9 199.1 588.2 201.5 583.5 202.6 578.8 200.9 571.8 200.3 564.7 199.7 558.8 196.8 551.8 194.4 549.4 190.9 544.7 187.4Z" fill="#b10026"/>
<path d="M630 207 631.5 204 635 201.5 637 201 638 204 636.5 207 635 210 633 212 631 210Z" fill="url(#hatch)" stroke="#bbbbbb"/>
<path d="M635 212 639 211.5 642 215 643.5 219 641 221.5 638.5 221 636.5 218 635.5 215Z" fill="#feb24c"/>
<path d="M639 171 643 173 647 177 651 182 654 184 655 189 657 191 655 191 652 188 649 184 646 180 642 175Z" fill="#feb24c"/>
<path d="M655 194 658 193 661 195 663 194.5 666.7 196.5 665 199 661.7 199.5 660 201.7 657.5 200.5 656.5 198Z" fill="#fed976"/>
<path d="M657 203.5 661 204 664 207 666.5 212 668 217 667 221 663 222.5 658 224 653 225.5 649 227 647 226.5 648 224 652 222 656 220 659 218 660 214 659 209 657.5 206Z" fill="#fed976"/>
<path d="M646.7 227 650 226.5 651.5 229 650 231 648 230.5 646.5 229Z" fill="#fed976"/>
<path d="M652 224.5 656 224 655 225.8 652.5 226Z" fill="#fed976"/>
<path d="M634 248 636 246 636.4 251 634.4 252Z" fill="#fed976"/>
<path d="M609.5 260 613 259.5 614.5 261.5 612 263.5 610 262.5Z" fill="#feb24c"/>
<path d="M499.5 235 503.3 234.6 508.5 233.5 510.8 230.5 514.5 228.3 516.8 224.5 517.5 220 516.8 215.5 518.3 214.8 521.3 215.5 524.3 214 526.5 216.3 530.3 219.3 531.8 220 528.8 221.1 525 221.9 524.3 223 527.3 226 528 228.3 526.5 231.3 525 234.3 523.5 237.3 519.8 240.3 519 242.5 521.3 246.3 519.8 248 516 248.5 512.3 247 506.3 246.3 501.8 245.5 501 242.5 503.3 241 500.3 237.3Z" fill="#ffeda0"/>
<path d="M531.8 220 534.8 223 535.5 226.8 538.5 229.8 541.5 232.8 542.7 236.7 548.5 239 554.3 241.3 559 242.5 559 240.2 561.3 240 568.3 237.8 575.3 235.5 578.8 237.8 576.5 241.3 574.2 246 571.8 254.2 570.7 253 567.2 253 563.7 251.8 561.3 253 560.2 256.5 556.7 261.2 552 265.8 547.3 271.7 546.2 277.5 545 285.7 542.7 290.3 540.3 288 536.8 281 533.3 274 529.8 267 527.5 260 525.2 256.5 520.5 254.2 517 248.3 519.8 248 521.3 246.3 519 242.5 519.8 240.3 523.5 237.3 525 234.3 526.5 231.3 528 228.3 527.3 226 524.3 223 525 221.9 528.8 221.1Z" fill="#fed976"/>
<path d="M541.5 232.3 545 233.3 550.8 235.7 556.7 238 559 239.2 559 242.5 554.3 241.3 548.5 239 542.7 236.7Z" fill="#fd8d3c"/>
<path d="M561.3 238.5 566 237.8 568.3 239 566 241 561.3 241Z" fill="url(#hatch)" stroke="#bbbbbb"/>
<path d="M561.3 243.7 566 246 569.5 248.3 570.7 253 567.2 253 563.7 251.8 561.3 248.3Z" fill="#ffeda0"/>
<path d="M547.3 285.7 549.7 288 550.8 292.7 548.5 293.8 546.8 290.3Z" fill="#fed976"/>
<path d="M578.8 237.8 582 242 583 250 588 253 590 256 590 259 586 260 585 265 587 269 588 274 589 278 588 280 586 274 584 270 580 266 578 262 574 256 571.8 254.2 574.2 246 576.5 241.3Z" fill="url(#hatch)" stroke="#bbbbbb"/>
<path d="M586 260 590 259 592.5 260 594 264 599 264 601 268 603 272 600 275 598 278 596 279 593 277 591 280 590 285 591 290 592.2 291.6 594.1 294.4 593.2 295.4 590.4 292.5 589 288 589 282 590 278 588 274 587 269 585 265Z" fill="#fed976"/>
<path d="M588 253 592 254 595 253 598 256 600 261 603 265 606 270 608 274 605 275 603 272 601 268 599 264 594 264 592.5 260 590 259 590 256Z" fill="#ffeda0"/>
<path d="M595 253 600 251 604 253 606 256 603 259 601 262 605 267 609 271 612 275 613 280 610 284 605 288 604 286 606 283 608 278 608 274 606 270 603 265 600 261 598 256Z" fill="#fed976"/>
<path d="M598 276 601 275 605 275 608 274 608 278 606 283 603 282 600 284 598 281Z" fill="#fc4e2a"/>
<path d="M594.1 294.4 596.9 295.4 599.8 299.1 601.6 303.8 603.1 308.1 601.2 307.6 597.9 303.8 595.1 300.1 594.1 297.2Z" fill="#feb24c"/>
<path d="M355.3 215.3 360 212.9 362.9 209.4 364.7 204.7 368.2 202.4 368.2 200.6 372.5 199.5 376.3 198.8 378.5 196.5 378.1 193.9 380 195 382.3 196.5 385.3 199.5 388.3 202.5 392 205.5 395 208.5 395.8 210.8 397.3 212.3 398 210 399.5 207.8 401.8 207.8 401 206.3 397.3 203.3 393.5 200.3 389.8 196.5 389 193.5 391.3 192.8 392.8 193.5 395 195.8 398.8 198.8 404 202.5 404 204 404.8 206.3 405.9 206 406.5 209.4 408.2 212.9 410.6 215.9 412.9 214.1 410.8 211.5 410 207.8 413 206.3 416 205.5 414.5 203.6 417.5 202.5 419.5 203 420 203.5 421.2 205.9 420 209.4 419.5 213.3 422.5 214.8 426.3 216.3 430 215.5 434.5 216.3 437.5 215.9 440.5 216.3 440.5 221.5 439 226 439.4 230.5 439 230.9 433.8 230.5 426.3 229.8 418 229.4 412.6 226.8 408 227.9 404.4 231.5 399.7 229.1 395 226.8 388 226.8 385.6 220.9 384.4 215 380.9 215 373.8 215.6 364.4 217.4 357.4 219.7 350.3 218.5 352 217Z" fill="#fff"/>
<path d="M422.4 193.5 424.1 191.8 425.3 191.2 427.1 190.6 429.4 191.2 431.8 191.8 430 192.9 431.2 194.1 433.5 195.6 435.3 194.1 437.6 193.5 441 194.5 444 195.5 447.6 196.5 449.5 198.5 447 200 441.2 200.6 435.3 201.8 429.4 202.4 424.7 202.1 422.9 200.6 422.4 197.6 422.6 195.3Z" fill="#fff"/>
<path d="M435.3 190 437.6 189.4 440 188.8 441.2 191.2 438.8 192.4 436.5 191.8 434.7 191.8Z" fill="#fff"/>
<path d="M460.3 194.2 464.2 190.6 467.7 189.6 471.9 190.6 472.3 193.5 469.1 194.9 467.7 195.6 469.1 197.3 471.9 200.2 474.8 201.9 476.2 203.7 476.2 206.2 477.6 209.7 476.9 213.2 475.5 215.3 471.9 214.6 469.1 212.5 468.4 208.3 467 205.5 464.9 201.9 462.8 199.1 460.6 196.3Z" fill="#fff"/>
<path d="M435 233.5 437.5 233 440 233 443 238 447 244 450 250 454 257 458 262 461 267 462.5 270 460.5 272 456 266 450 258 446 250 440 240Z" fill="#fff"/>
<path d="M467 233.5 470 234.5 472 235 477 239 482 242 488 243 492 244 489 244.5 488 249 484 250 480 249 478 247 476 244 473 240 470 237Z" fill="#fff"/>
<path d="M466.5 233.3 469 233 470.3 235.8 467.8 236.3Z" fill="#fc4e2a"/>
<path d="M476.2 243.5 477.5 243.3 478 246.5 476.8 246.8Z" fill="#feb24c"/>
<path d="M384.5 164 385.3 166.8 388.2 168 390.7 168 392.7 165.3 393.3 161.3 394.7 159.3 396.7 157.3 394.7 154 394.7 151.3 396 148 398.7 146 400 143.3 404 142.7 406 144 402.7 146.7 401.3 150 402 154 405.3 156 409.3 156.7 413.3 155.3 416 157.5 414.7 158.3 406.7 158.7 407.3 161.3 410.6 162.6 406 163 404.1 163.8 404.1 166.2 405.3 169.1 401.8 169.1 401.8 170.3 396.5 171 390.5 171.8 386.8 170.3 383 167.4Z" fill="#fff"/>
<path d="M433.3 141.2 428.4 142.4 422.7 141.7 421.3 143.1 425.5 145.2 428.4 147.4 432.6 144.5 435.4 142Z" fill="#fff"/>
<path d="M390.6 212.9 395.3 212.4 394.7 215.3 391.8 214.7Z" fill="#fed976"/>
<path d="M380.8 204 383 203.6 383.4 208.5 381.1 209.3Z" fill="#fed976"/>
<path d="M381.1 199.5 382.6 199.5 382.6 202.5 381.5 202.5Z" fill="#fed976"/>
<path d="M414.1 218.5 417 218.2 420 218.8 417 219.8 414.5 219.6Z" fill="#fed976"/>
<path d="M433.4 220 437.5 218.5 436 220.8Z" fill="#fed976"/>
<path d="M396.3 161 397.5 160.5 397.6 162.5 396.5 162.6Z" fill="#ffeda0"/>
<path d="M582.4 297.2 585.6 297.7 589.4 301 593.2 304.8 596.9 307.6 601.6 311.4 602.6 314.2 606.4 317.9 607.3 322.6 605.4 326.4 602.6 324.5 598.8 319.8 595.1 315.1 591.3 309.5 587.5 303.8 583.8 300.1Z" fill="#fed976"/>
<path d="M606.4 327.4 611.1 327.8 617.6 329.2 623.3 331.1 628.5 333.5 625.2 334.4 619.5 333 612 331.1 607.3 329.2Z" fill="#fed976"/>
<path d="M632 334 636 333.5 637 335 633 335.5Z" fill="#fed976"/>
<path d="M639 334.5 644 334 644 335.5 639 336Z" fill="#fed976"/>
<path d="M647 336 652 334 653 335.5 648 337.5Z" fill="#fed976"/>
<path d="M614.8 308.5 616.7 308.5 620.5 308.1 625.2 306.6 628.9 303.8 630.8 300.5 634.6 301 635.5 303.8 634.6 307.6 636.5 309.5 633.6 311.4 631.8 316.1 630.8 320.8 627.1 321.2 622.4 319.8 617.6 318.9 615.8 315.1 614.4 311.4Z" fill="#fed976"/>
<path d="M615.8 307.6 619.5 305.2 624.2 303.8 627.1 301.5 628.9 298.6 631.3 294.4 633.6 294.4 635.5 297.2 637.4 297.7 634.6 300.1 630.8 300.5 628.9 303.8 625.2 306.6 620.5 308.1 616.7 308.5Z" fill="#feb24c"/>
<path d="M640.2 309.5 645.9 308.5 651.5 307.6 650.6 309.5 645.9 310.4 642.1 313.2 645.9 314.2 644 317 645.9 320.8 646.8 325.5 644.9 326.4 643.1 322.6 641.2 320.8 640.2 324.5 638.4 325.5 637.4 320.8 638.4 316.1 639.3 312.3Z" fill="#fed976"/>
<path d="M666 314 672 313 676 317 682 317 688 319 688 335 684 334 680 330 678 325 672 322 668 319Z" fill="#fed976"/>
<path d="M688 319 696 323 700 328 704 332 708 339 702 339 698 335 692 334 688 335Z" fill="url(#hatch)" stroke="#bbbbbb"/>
<path d="M710.7 318 715 320.5 714 323 708 326.5 706 325.5 711 322Z" fill="url(#hatch)" stroke="#bbbbbb"/>
<path d="M718 325.5 721 327 720.5 328Z" fill="url(#hatch)" stroke="#bbbbbb"/>
<path d="M722 329 727 332 726.5 333 721.5 330Z" fill="url(#hatch)" stroke="#bbbbbb"/>
<path d="M728.5 333.5 734 338 733 339 728 335Z" fill="url(#hatch)" stroke="#bbbbbb"/>
<path d="M743.5 350 744.5 350.3 745.2 354.5 744.2 354.7Z" fill="url(#hatch)" stroke="#bbbbbb"/>
<path d="M734.5 364.5 736 364 740.5 369.5 739.5 370.5Z" fill="url(#hatch)" stroke="#bbbbbb"/>
<path d="M766.5 357.5 771 354 773.5 353.8 769 357 767 358.8Z" fill="url(#hatch)" stroke="#bbbbbb"/>
<path d="M638 264 642 266 641 274 646 278 650 282 652 290 648 294 644 290 642 284 639 276 637 270Z" fill="#fed976"/>
<path d="M632.7 289.7 635.5 285 636.5 285.5 634 289.5Z" fill="#fed976"/>
<path d="M645.9 290.6 649.6 287.8 652.5 286.9 654.4 290.6 653.4 294.4 651.5 297.2 649.6 294.4 646.8 293.5Z" fill="#fed976"/>
<path d="M614.5 399.9 616.1 395.1 618.5 387.2 616.9 380.9 620 369 625.6 365.9 633.5 364.3 639 360.3 643 355.6 647.7 350.8 652.5 348.5 657.2 350 660.4 346.9 663.6 342.9 666.7 341.3 671.5 342.9 676.2 343.7 673.1 349.2 677.8 354 682.6 357.2 685.7 352.4 687.3 346.1 689.7 340.5 692.1 346.1 693.6 350.8 696 358.7 700 366.7 703.9 374.6 705.5 382.5 703.1 390.4 698.4 398.3 692.1 404.6 685.7 409.4 679.4 412.6 674.6 412.6 668.3 411 665.1 409.4 663.6 404.6 662 401.5 660.4 403.1 658.8 399.9 657.2 395.9 652.5 394.4 644.6 394.4 636.7 395.9 628.7 398.3 620.8 401.5 616.1 402.3Z" fill="#fed976"/>
<path d="M668.3 418.9 676.2 418.1 673.1 422.8 669.1 425.2Z" fill="#fed976"/>
<path d="M739 402 742 407 746 410 742 414 738 418 733 420 734 416 738 410Z" fill="#fed976"/>
<path d="M730 418 722 424 714 429 708 432 706 431 712 427 720 422 728 418Z" fill="#fed976"/>
<path d="M9.5 259 11.5 258.3 12.2 260 10.5 261.8Z" fill="#fed976"/>
<path d="M5.5 254.5 7.5 255.3 8.5 256.5 6.5 256Z" fill="#fed976"/>
<path d="M2 253.3 3.2 253.8 2.5 254.6Z" fill="#fed976"/>
</g>
<!-- legend -->
<g id="legend">
<rect x="150.6" y="517.3" width="46.6" height="10.6" fill="url(#hatch)" stroke="#bbb" stroke-width="0.6"/>
<path d="M173.9 514.8V517.3" stroke="#aaa" stroke-width="0.6"/>
<rect x="217.60" y="517.1" width="60.25" height="10.9" fill="#ffffcc"/>
<rect x="277.85" y="517.1" width="60.25" height="10.9" fill="#ffeda0"/>
<rect x="338.10" y="517.1" width="60.25" height="10.9" fill="#fed976"/>
<rect x="398.35" y="517.1" width="60.25" height="10.9" fill="#feb24c"/>
<rect x="458.60" y="517.1" width="60.25" height="10.9" fill="#fd8d3c"/>
<rect x="518.85" y="517.1" width="60.25" height="10.9" fill="#fc4e2a"/>
<rect x="579.10" y="517.1" width="60.25" height="10.9" fill="#e31a1c"/>
<path d="M639.35 517.1H695L699.8 522.55L695 528H639.35Z" fill="#b10026"/>
<path d="M217.60 497.9V528M277.85 514.8V528M338.10 497.9V528M398.35 514.8V528M458.60 497.9V528M518.85 514.8V528M579.10 497.9V528M639.35 514.8V528" stroke="#9a9a9a" stroke-width="0.6" fill="none"/>
<g font-family="Liberation Sans, sans-serif" font-size="12.6" fill="#5b5b5b" text-anchor="middle">
<text x="173.8" y="510.1" letter-spacing="0.35">No data</text>
<text x="217.60" y="495.4" letter-spacing="0.45">0 kg/$</text>
<text x="277.85" y="510.1" letter-spacing="0.45">0.1 kg/$</text>
<text x="338.10" y="495.4" letter-spacing="0.45">0.2 kg/$</text>
<text x="398.35" y="510.1" letter-spacing="0.45">0.3 kg/$</text>
<text x="458.60" y="495.4" letter-spacing="0.45">0.4 kg/$</text>
<text x="518.85" y="510.1" letter-spacing="0.45">0.5 kg/$</text>
<text x="579.10" y="495.4" letter-spacing="0.45">0.6 kg/$</text>
<text x="639.35" y="510.1" letter-spacing="0.45">0.7 kg/$</text>
</g></g>
</svg>
<div class="t" id="foot"><b style="letter-spacing:-0.35px">Data source:</b><span style="letter-spacing:0.05px"> Global Carbon Budget (2025); Bolt and van Zanden – Maddison Project Database 2023</span><br><span style="letter-spacing:0.065px">OurWorldinData.org/co2-and-greenhouse-gas-emissions | CC BY</span></div>
</body></html>
